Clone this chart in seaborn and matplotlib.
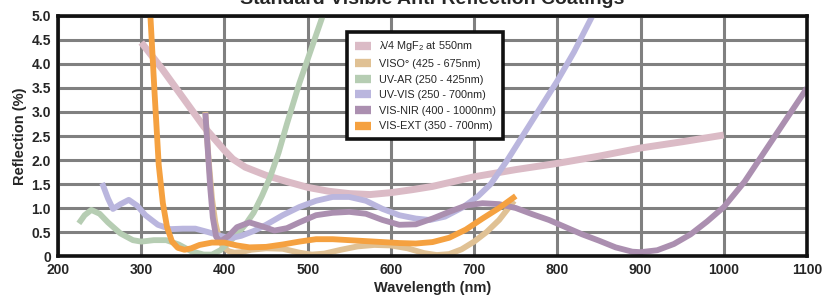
import matplotlib
matplotlib.use('Agg')
import matplotlib.pyplot as plt
import pandas as pd
import seaborn as sns

# wavelength (nm) / reflection (%)
mgf2_nm = [300, 325, 350, 375, 400, 410, 425, 450, 475, 500, 525, 550, 575, 600, 625, 650, 675, 700, 750, 800, 850, 900, 950, 1000]
mgf2_r = [4.45, 3.9, 3.3, 2.7, 2.2, 2.02, 1.85, 1.68, 1.55, 1.43, 1.35, 1.3, 1.28, 1.32, 1.38, 1.45, 1.55, 1.65, 1.8, 1.93, 2.08, 2.25, 2.38, 2.52]

viso_nm = [377, 381, 385, 389, 393, 398, 405, 412, 420, 432, 450, 470, 490, 505, 520, 540, 560, 580, 600, 620, 640, 655, 670, 685, 700, 715, 730, 748]
viso_r = [3.0, 2.0, 1.2, 0.7, 0.4, 0.2, 0.1, 0.07, 0.08, 0.13, 0.16, 0.15, 0.07, 0.03, 0.05, 0.13, 0.2, 0.23, 0.22, 0.16, 0.06, 0.02, 0.04, 0.14, 0.3, 0.5, 0.75, 1.15]

uvar_nm = [225, 232, 240, 250, 260, 275, 290, 300, 315, 330, 345, 360, 375, 385, 395, 405, 415, 425, 435, 445, 455, 465, 475, 490, 505, 518]
uvar_r = [0.68, 0.85, 0.96, 0.88, 0.7, 0.47, 0.33, 0.3, 0.33, 0.33, 0.24, 0.1, 0.03, 0.03, 0.12, 0.28, 0.45, 0.65, 0.9, 1.25, 1.65, 2.15, 2.75, 3.6, 4.35, 5.0]

uvvis_nm = [253, 260, 266, 275, 285, 295, 305, 320, 335, 350, 365, 380, 395, 407, 420, 435, 450, 470, 490, 510, 530, 550, 570, 590, 610, 630, 647, 665, 687, 705, 720, 740, 760, 780, 800, 820, 842]
uvvis_r = [1.52, 1.2, 0.98, 1.08, 1.17, 1.05, 0.85, 0.65, 0.56, 0.57, 0.57, 0.5, 0.42, 0.37, 0.42, 0.52, 0.65, 0.85, 1.02, 1.15, 1.23, 1.23, 1.15, 0.98, 0.85, 0.78, 0.75, 0.82, 1.02, 1.25, 1.5, 2.0, 2.55, 3.1, 3.65, 4.25, 5.0]

visnir_nm = [377, 380, 383, 386, 390, 395, 405, 415, 430, 445, 460, 475, 490, 510, 530, 550, 570, 590, 610, 630, 650, 670, 690, 710, 730, 750, 770, 790, 810, 830, 850, 870, 890, 900, 920, 940, 960, 980, 1000, 1025, 1050, 1075, 1100]
visnir_r = [2.98, 2.2, 1.4, 0.8, 0.4, 0.3, 0.42, 0.6, 0.7, 0.62, 0.53, 0.58, 0.7, 0.85, 0.9, 0.92, 0.88, 0.75, 0.65, 0.66, 0.78, 0.92, 1.05, 1.1, 1.08, 1.0, 0.87, 0.75, 0.6, 0.45, 0.32, 0.18, 0.09, 0.08, 0.12, 0.25, 0.45, 0.72, 1.02, 1.55, 2.2, 2.85, 3.5]

visext_nm = [311, 316, 321, 326, 331, 337, 344, 352, 360, 370, 385, 400, 415, 430, 450, 470, 490, 510, 530, 550, 570, 590, 610, 630, 650, 670, 690, 710, 730, 750]
visext_r = [5.0, 3.4, 1.9, 1.1, 0.6, 0.3, 0.17, 0.13, 0.16, 0.23, 0.28, 0.28, 0.22, 0.18, 0.19, 0.24, 0.3, 0.35, 0.35, 0.33, 0.31, 0.29, 0.27, 0.26, 0.29, 0.38, 0.55, 0.78, 1.0, 1.25]

names = ['$\\lambda$/4 MgF$_2$ at 550nm', 'VISO° (425 - 675nm)', 'UV-AR (250 - 425nm)',
         'UV-VIS (250 - 700nm)', 'VIS-NIR (400 - 1000nm)', 'VIS-EXT (350 - 700nm)']
colors = ['#dbbbc6', '#e0c194', '#b6cdb3', '#bab6de', '#ab8fb0', '#f5a140']
series = [(mgf2_nm, mgf2_r), (viso_nm, viso_r), (uvar_nm, uvar_r),
          (uvvis_nm, uvvis_r), (visnir_nm, visnir_r), (visext_nm, visext_r)]

df = pd.concat([pd.DataFrame({'nm': x, 'r': y, 'coating': n}) for n, (x, y) in zip(names, series)],
               ignore_index=True)

sns.set_style('white')
plt.rcParams['font.family'] = ['Liberation Sans', 'DejaVu Sans']
plt.rcParams['mathtext.fontset'] = 'custom'
plt.rcParams['mathtext.rm'] = 'Liberation Sans'
plt.rcParams['mathtext.it'] = 'Liberation Sans'

fig = plt.figure(figsize=(8.23, 2.99), dpi=100)
ax = fig.add_axes([0.0705, 0.1438, 0.9101, 0.8027])

sns.lineplot(data=df, x='nm', y='r', hue='coating', palette=dict(zip(names, colors)),
             sort=False, estimator=None, linewidth=4.2, ax=ax)
for line in ax.get_lines():
    line.set_solid_capstyle('butt')
ax.get_lines()[0].set_linewidth(5.0)

ax.set_xlim(200, 1100)
ax.set_ylim(0, 5)
ax.set_xticks(range(200, 1101, 100))
yt = [i * 0.5 for i in range(11)]
ax.set_yticks(yt)
ax.set_yticklabels(['0'] + ['%.1f' % v for v in yt[1:]])
ax.grid(True, color='#808080', linewidth=2.2)
ax.set_axisbelow(True)
ax.tick_params(length=0, labelsize=10, pad=5)
for lab in ax.get_xticklabels() + ax.get_yticklabels():
    lab.set_fontweight('bold')
for s in ax.spines.values():
    s.set_color('#111111')
    s.set_linewidth(2.6)
    s.set_zorder(5)

ax.set_xlabel('Wavelength (nm)', fontsize=10.5, fontweight='bold', labelpad=3)
ax.set_ylabel('Reflection (%)', fontsize=10.5, fontweight='bold', labelpad=3)

handles, labels = ax.get_legend_handles_labels()
leg = ax.legend(handles, labels, loc='upper left', bbox_to_anchor=(0.379, 0.957),
                fontsize=7.8, handlelength=1.5, handletextpad=0.7, labelspacing=0.52,
                borderpad=0.7, fancybox=False, framealpha=1)
leg.get_frame().set_edgecolor('#111111')
leg.get_frame().set_linewidth(2.6)
for h in leg.get_lines():
    h.set_linewidth(6)
leg.set_zorder(6)

fig.text(0.525, 0.985, 'Standard Visible Anti-Reflection Coatings', ha='center', va='baseline',
         fontsize=14, fontweight='bold')

fig.savefig('out.png', dpi=100)
